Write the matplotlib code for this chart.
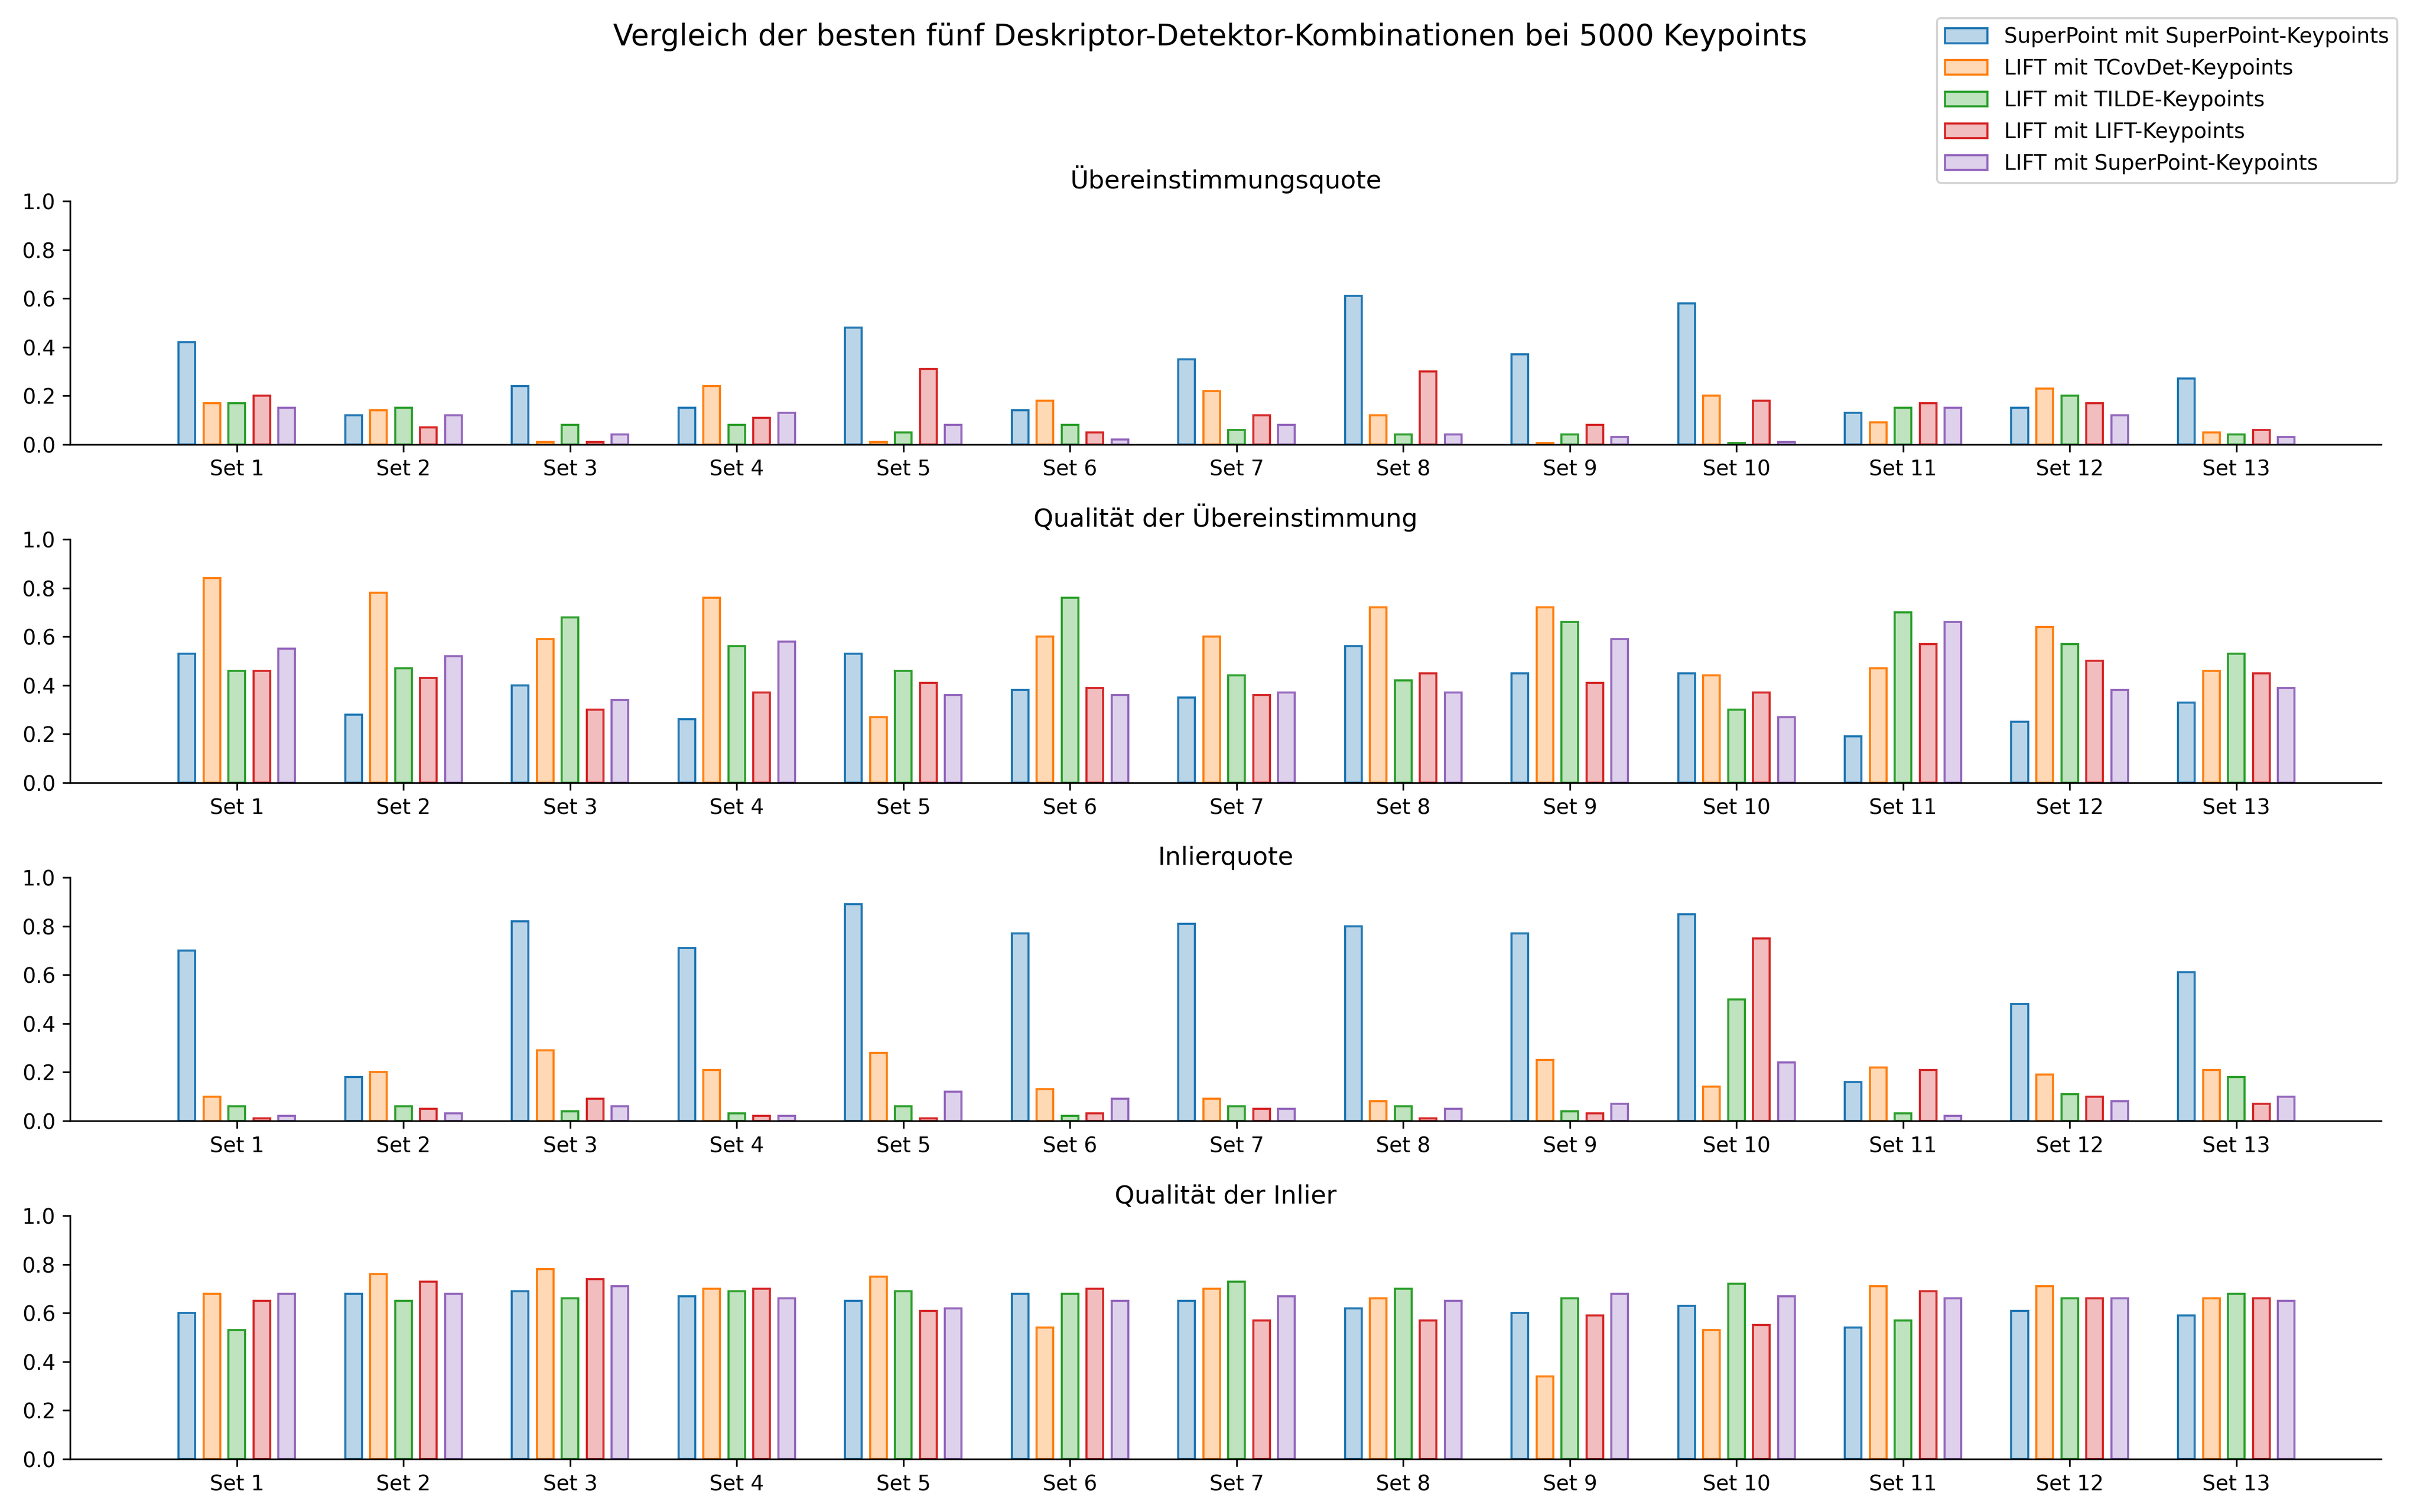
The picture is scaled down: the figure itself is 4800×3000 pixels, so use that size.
import matplotlib
matplotlib.use("Agg")
import matplotlib.pyplot as plt
import numpy as np

sets = [f"Set {i}" for i in range(1, 14)]
series = ["SuperPoint mit SuperPoint-Keypoints", "LIFT mit TCovDet-Keypoints",
          "LIFT mit TILDE-Keypoints", "LIFT mit LIFT-Keypoints", "LIFT mit SuperPoint-Keypoints"]
colors = ["tab:blue", "tab:orange", "tab:green", "tab:red", "tab:purple"]
titles = ["Übereinstimmungsquote", "Qualität der Übereinstimmung", "Inlierquote", "Qualität der Inlier"]

p1 = [[.42,.12,.24,.15,.48,.14,.35,.61,.37,.58,.13,.15,.27],
      [.17,.14,.01,.24,.01,.18,.22,.12,.005,.20,.09,.23,.05],
      [.17,.15,.08,.08,.05,.08,.06,.04,.04,.005,.15,.20,.04],
      [.20,.07,.01,.11,.31,.05,.12,.30,.08,.18,.17,.17,.06],
      [.15,.12,.04,.13,.08,.02,.08,.04,.03,.01,.15,.12,.03]]
p2 = [[.53,.28,.40,.26,.53,.38,.35,.56,.45,.45,.19,.25,.33],
      [.84,.78,.59,.76,.27,.60,.60,.72,.72,.44,.47,.64,.46],
      [.46,.47,.68,.56,.46,.76,.44,.42,.66,.30,.70,.57,.53],
      [.46,.43,.30,.37,.41,.39,.36,.45,.41,.37,.57,.50,.45],
      [.55,.52,.34,.58,.36,.36,.37,.37,.59,.27,.66,.38,.39]]
p3 = [[.70,.18,.82,.71,.89,.77,.81,.80,.77,.85,.16,.48,.61],
      [.10,.20,.29,.21,.28,.13,.09,.08,.25,.14,.22,.19,.21],
      [.06,.06,.04,.03,.06,.02,.06,.06,.04,.50,.03,.11,.18],
      [.01,.05,.09,.02,.01,.03,.05,.01,.03,.75,.21,.10,.07],
      [.02,.03,.06,.02,.12,.09,.05,.05,.07,.24,.02,.08,.10]]
p4 = [[.60,.68,.69,.67,.65,.68,.65,.62,.60,.63,.54,.61,.59],
      [.68,.76,.78,.70,.75,.54,.70,.66,.34,.53,.71,.71,.66],
      [.53,.65,.66,.69,.69,.68,.73,.70,.66,.72,.57,.66,.68],
      [.65,.73,.74,.70,.61,.70,.57,.57,.59,.55,.69,.66,.66],
      [.68,.68,.71,.66,.62,.65,.67,.65,.68,.67,.66,.66,.65]]
panels = [p1, p2, p3, p4]

fig, axes = plt.subplots(4, 1, figsize=(16, 10), dpi=300)
fig.subplots_adjust(left=0.029, right=0.984, top=0.867, bottom=0.035, hspace=0.39)
x = np.arange(len(sets))
for ax, data, title in zip(axes, panels, titles):
    for k, (vals, c, name) in enumerate(zip(data, colors, series)):
        ax.bar(x + (k - 2) * 0.15, vals, width=0.1, facecolor=matplotlib.colors.to_rgba(c, 0.3),
               edgecolor=c, linewidth=1.0, label=name)
    ax.set_title(title, fontsize=12)
    ax.set_ylim(0, 1.0)
    ax.set_yticks(np.arange(0, 1.01, 0.2))
    ax.set_xticks(x)
    ax.set_xticklabels(sets)
    ax.set_xlim(-1, 12.87)
    ax.spines["top"].set_visible(False)
    ax.spines["right"].set_visible(False)
    ax.tick_params(labelsize=10)
h, l = axes[0].get_legend_handles_labels()
fig.legend(h, l, loc="upper right", bbox_to_anchor=(0.995, 0.995), fontsize=10)
fig.suptitle("Vergleich der besten fünf Deskriptor-Detektor-Kombinationen bei 5000 Keypoints",
             fontsize=14, x=0.5, y=0.985)
fig.savefig("out.png")
